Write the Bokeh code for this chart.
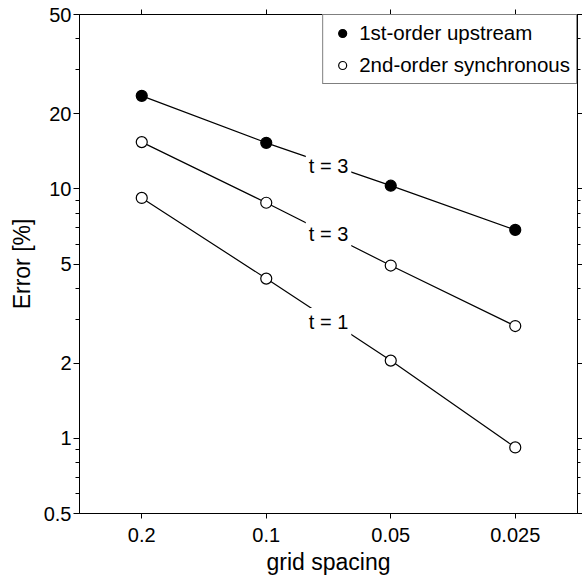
from bokeh.plotting import figure
from bokeh.models import (FixedTicker, LogAxis, Range1d, Legend, LegendItem,
                          CustomJSTickFormatter, ColumnDataSource)
from bokeh.core.properties import value
from bokeh.embed import file_html
from bokeh.resources import INLINE

# ---- data ----
grid_spacing = [0.2, 0.1, 0.05, 0.025]
err_upstream_t3 = [23.6, 15.3, 10.3, 6.85]
err_sync_t3 = [15.4, 8.8, 4.93, 2.82]
err_sync_t1 = [9.2, 4.37, 2.05, 0.92]

x_ticks = [0.2, 0.1, 0.05, 0.025]
y_ticks = [0.5, 1, 2, 5, 10, 20, 50]
y_minor_ticks = [0.6, 0.7, 0.8, 0.9, 3, 4, 6, 7, 8, 9, 30, 40]

series_labels = ["1st-order upstream", "2nd-order synchronous"]
curve_labels = ["t = 3", "t = 3", "t = 1"]
curve_label_x = [0.0707, 0.0707, 0.0707]
curve_label_y = [12.4, 6.6, 2.93]

x_title = "grid spacing"
y_title = "Error [%]"

FONT = "Liberation Sans"

p = figure(width=582, height=579, x_axis_type="log", y_axis_type="log",
           x_range=Range1d(0.2 * 2 ** 0.5, 0.025 / 2 ** 0.5),
           y_range=Range1d(0.5, 50),
           output_backend="svg", toolbar_location=None,
           min_border_left=79, min_border_right=3, min_border_top=14,
           min_border_bottom=66)

p.xgrid.visible = False
p.ygrid.visible = False
p.outline_line_color = "black"
p.outline_line_width = 1
p.background_fill_color = "white"
p.border_fill_color = "white"


def style_axis(ax, show_labels=True):
    ax.axis_line_color = "black"
    ax.axis_line_width = 1
    ax.major_tick_line_color = "black"
    ax.minor_tick_line_color = "black"
    ax.major_tick_in = 0
    ax.major_tick_out = 5
    ax.minor_tick_in = 0
    ax.minor_tick_out = 3
    ax.major_label_text_font = FONT
    ax.major_label_text_color = "black"
    if show_labels:
        ax.major_label_text_font_size = "20px"
    else:
        ax.major_label_text_font_size = "0px"
        ax.major_label_standoff = 0


tick_fmt = "return tick.toString();"
empty_fmt = "return '';"

xax = p.below[0]
xax.ticker = FixedTicker(ticks=x_ticks, minor_ticks=[])
xax.formatter = CustomJSTickFormatter(code=tick_fmt)
style_axis(xax)
xax.major_label_standoff = 9
xax.axis_label = x_title
xax.axis_label_standoff = 4
xax.axis_label_text_font = FONT
xax.axis_label_text_font_size = "23px"
xax.axis_label_text_font_style = "normal"
xax.axis_label_text_color = "black"

yax = p.left[0]
yax.ticker = FixedTicker(ticks=y_ticks, minor_ticks=y_minor_ticks)
yax.formatter = CustomJSTickFormatter(code=tick_fmt)
style_axis(yax)
yax.major_tick_out = 6
yax.minor_tick_out = 4
yax.major_label_standoff = 2
yax.axis_label = y_title
yax.axis_label_standoff = 6
yax.axis_label_text_font = FONT
yax.axis_label_text_font_size = "23px"
yax.axis_label_text_font_style = "normal"
yax.axis_label_text_color = "black"

rax = LogAxis(ticker=FixedTicker(ticks=y_ticks, minor_ticks=y_minor_ticks),
              formatter=CustomJSTickFormatter(code=empty_fmt))
style_axis(rax, show_labels=False)
p.add_layout(rax, "right")

tax = LogAxis(ticker=FixedTicker(ticks=x_ticks, minor_ticks=[]),
              formatter=CustomJSTickFormatter(code=empty_fmt))
style_axis(tax, show_labels=False)
p.add_layout(tax, "above")

# ---- lines ----
for ys in (err_upstream_t3, err_sync_t3, err_sync_t1):
    p.line(grid_spacing, ys, line_color="black", line_width=1.2)

# ---- curve labels with white background breaking the lines ----
lab_src = ColumnDataSource(dict(x=curve_label_x, y=curve_label_y, text=curve_labels))
p.text(x="x", y="y", text="text", source=lab_src,
       text_font=value(FONT), text_font_size="20px", text_color="black",
       text_align="center", text_baseline="middle",
       background_fill_color="white", padding=3)

# ---- markers ----
r1 = p.scatter(grid_spacing, err_upstream_t3, marker="circle", size=11,
               fill_color="black", line_color="black", line_width=1.2)
r2 = p.scatter(grid_spacing, err_sync_t3, marker="circle", size=11,
               fill_color="white", line_color="black", line_width=1.2)
r3 = p.scatter(grid_spacing, err_sync_t1, marker="circle", size=11,
               fill_color="white", line_color="black", line_width=1.2)

legend = Legend(items=[LegendItem(label=series_labels[0], renderers=[r1]),
                       LegendItem(label=series_labels[1], renderers=[r2])],
                location="top_right", margin=0, padding=6, spacing=8,
                glyph_width=26, glyph_height=20, label_standoff=4,
                label_text_font=FONT, label_text_font_size="20.5px",
                label_text_color="black",
                border_line_color="black", border_line_width=1,
                background_fill_color="white", background_fill_alpha=1)
p.add_layout(legend)

open("out.html", "w").write(file_html(p, INLINE))
